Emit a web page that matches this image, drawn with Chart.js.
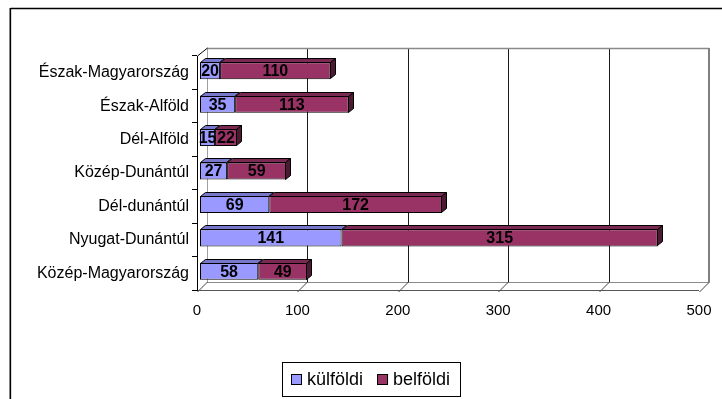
<!DOCTYPE html>
<html>
<head>
<meta charset="utf-8">
<script src="https://cdn.jsdelivr.net/npm/chart.js@4.4.0/dist/chart.umd.min.js"></script>
<style>
  html, body { margin: 0; padding: 0; background: #fff; }
  canvas { display: block; }
</style>
</head>
<body>
<canvas id="c" width="722" height="399"></canvas>
<script>
// Regions and the two visitor groups, stacked per region
const regions = ['Észak-Magyarország', 'Észak-Alföld', 'Dél-Alföld', 'Közép-Dunántúl',
                 'Dél-dunántúl', 'Nyugat-Dunántúl', 'Közép-Magyarország'];
const kulfoldi = [20, 35, 15, 27, 69, 141, 58];
const belfoldi = [110, 113, 22, 59, 172, 315, 49];
const seriesNames = ['külföldi', 'belföldi'];
const valueTicks = [0, 100, 200, 300, 400, 500];

const FONT = '"Liberation Sans", Arial, Helvetica, sans-serif';
const WALL = { dx: 10, dy: -8 };      // depth of the walls / floor
const BAR_D = { dx: 5, dy: -4 };      // depth of each bar
const BAR_SHIFT = { dx: 3, dy: -2 };  // bars sit slightly inside the box
const faces = [
  { front: '#9999FF', top: '#7777CC', side: '#5C5C99' },
  { front: '#993366', top: '#7A2952', side: '#4D1A33' }
];

function line(ctx, x1, y1, x2, y2, color, w) {
  ctx.beginPath();
  ctx.moveTo(x1, y1);
  ctx.lineTo(x2, y2);
  ctx.strokeStyle = color;
  ctx.lineWidth = w || 1;
  ctx.stroke();
}

const scene3d = {
  id: 'scene3d',
  beforeDraw(chart) {
    const ctx = chart.ctx;
    const { left, right, top, bottom } = chart.chartArea;
    const xs = chart.scales.x;
    ctx.save();
    ctx.fillStyle = '#fff';
    ctx.fillRect(0, 0, chart.width, chart.height);

    // outer frame
    line(ctx, 9.5, 8, 9.5, chart.height, '#9a9a9a', 1);
    line(ctx, 10.5, 8.5, chart.width, 8.5, '#000', 1.3);
    line(ctx, 10.5, 8, 10.5, chart.height, '#000', 1.3);

    const bl = left + WALL.dx, br = right + WALL.dx;
    const bt = top + WALL.dy, bb = bottom + WALL.dy;

    // back wall gridlines
    valueTicks.forEach((v, i) => {
      const px = Math.round(xs.getPixelForValue(v) + WALL.dx) + 0.5;
      if (i > 0 && i < valueTicks.length - 1) line(ctx, px, bt, px, bb, '#1a1a1a', 1);
    });
    // back wall border
    line(ctx, bl + 0.5, bb, bl + 0.5, bt, '#a0a0a0', 1);
    line(ctx, bl, bt + 0.5, br, bt + 0.5, '#8a8a8a', 1.5);
    line(ctx, br, bt, br, bb, '#808080', 2);

    // left wall top edge
    line(ctx, left + 0.5, top, bl + 0.5, bt, '#000', 1);

    // floor
    line(ctx, bl, bb + 0.5, br, bb + 0.5, '#8a8a8a', 1);
    valueTicks.forEach(v => {
      const px = xs.getPixelForValue(v);
      line(ctx, Math.round(px) + 0.5, bottom + 2, Math.round(px + WALL.dx) + 0.5, bb, '#444', 1);
    });
    line(ctx, left, bottom + 0.5, right, bottom + 0.5, '#555', 1);
    ctx.restore();
  },
  beforeDatasetsDraw(chart) {
    chart.ctx.save();
    chart.ctx.translate(BAR_SHIFT.dx, BAR_SHIFT.dy);
  },
  afterDatasetsDraw(chart) {
    const ctx = chart.ctx;
    const n = chart.data.labels.length;
    const last = chart.data.datasets.length - 1;
    for (let i = 0; i < n; i++) {
      chart.data.datasets.forEach((ds, d) => {
        const el = chart.getDatasetMeta(d).data[i];
        const p = el.getProps(['x', 'y', 'base', 'height'], true);
        const x0 = Math.round(p.base), x1 = Math.round(p.x);
        const yt = Math.round(p.y - p.height / 2), yb = Math.round(p.y + p.height / 2);
        ctx.lineWidth = 1;
        ctx.strokeStyle = '#000';
        // top face
        ctx.beginPath();
        ctx.moveTo(x0 + 0.5, yt + 0.5);
        ctx.lineTo(x0 + BAR_D.dx + 0.5, yt + BAR_D.dy + 0.5);
        ctx.lineTo(x1 + BAR_D.dx - 0.5, yt + BAR_D.dy + 0.5);
        ctx.lineTo(x1 - 0.5, yt + 0.5);
        ctx.closePath();
        ctx.fillStyle = faces[d].top;
        ctx.fill();
        ctx.stroke();
        // right side face on the outer segment
        if (d === last) {
          ctx.beginPath();
          ctx.moveTo(x1 - 0.5, yt + 0.5);
          ctx.lineTo(x1 + BAR_D.dx - 0.5, yt + BAR_D.dy + 0.5);
          ctx.lineTo(x1 + BAR_D.dx - 0.5, yb + BAR_D.dy - 0.5);
          ctx.lineTo(x1 - 0.5, yb - 0.5);
          ctx.closePath();
          ctx.fillStyle = faces[d].side;
          ctx.fill();
          ctx.stroke();
        }
      });
    }
    // value labels
    ctx.fillStyle = '#000';
    ctx.font = 'bold 16px ' + FONT;
    ctx.textAlign = 'center';
    ctx.textBaseline = 'middle';
    chart.data.datasets.forEach((ds, d) => {
      chart.getDatasetMeta(d).data.forEach((el, i) => {
        const p = el.getProps(['x', 'y', 'base'], true);
        ctx.fillText(String(ds.data[i]), (p.x + p.base) / 2, p.y + 1);
      });
    });
    ctx.restore();
  },
  afterDraw(chart) {
    // legend
    const ctx = chart.ctx;
    ctx.save();
    const boxL = 282, boxT = 362, boxW = 178, boxH = 34;
    ctx.fillStyle = '#fff';
    ctx.fillRect(boxL, boxT, boxW, boxH);
    ctx.strokeStyle = '#000';
    ctx.lineWidth = 1;
    ctx.strokeRect(boxL + 0.5, boxT + 0.5, boxW, boxH);
    ctx.font = '18px ' + FONT;
    ctx.textBaseline = 'middle';
    ctx.textAlign = 'left';
    let x = 291;
    const cy = boxT + boxH / 2 + 0.5;
    chart.data.datasets.forEach((ds, d) => {
      ctx.fillStyle = ds.backgroundColor;
      ctx.fillRect(x, cy - 5.5, 11, 11);
      ctx.strokeRect(x + 0.5, cy - 5.5 + 0.5, 10, 10);
      ctx.fillStyle = '#000';
      ctx.fillText(ds.label, x + 16, cy + 1);
      x += 16 + ctx.measureText(ds.label).width + 14;
    });
    ctx.restore();
  }
};

new Chart(document.getElementById('c'), {
  type: 'bar',
  data: {
    labels: regions,
    datasets: [
      { label: seriesNames[0], data: kulfoldi, backgroundColor: faces[0].front },
      { label: seriesNames[1], data: belfoldi, backgroundColor: faces[1].front }
    ]
  },
  options: {
    indexAxis: 'y',
    responsive: false,
    animation: false,
    devicePixelRatio: 1,
    layout: { padding: { left: 0, top: 56, right: 23, bottom: 0 } },
    datasets: {
      bar: {
        borderColor: '#000',
        borderWidth: 1,
        borderSkipped: false,
        categoryPercentage: 1,
        barPercentage: 0.51
      }
    },
    plugins: {
      legend: { display: false },
      tooltip: { enabled: false }
    },
    scales: {
      x: {
        type: 'linear',
        stacked: true,
        min: 0,
        max: 500,
        afterBuildTicks(scale) { scale.ticks = valueTicks.map(v => ({ value: v })); },
        afterFit(scale) { scale.height = 109; },
        grid: { display: false },
        border: { display: false },
        ticks: { color: '#000', font: { family: FONT, size: 15 }, padding: 4, maxRotation: 0 }
      },
      y: {
        stacked: true,
        afterFit(scale) { scale.width = 197; },
        grid: { drawOnChartArea: false, drawTicks: true, tickLength: 5, color: '#000', offset: true },
        border: { display: true, color: '#000', width: 1 },
        ticks: { color: '#000', font: { family: FONT, size: 16 }, padding: 3 }
      }
    }
  },
  plugins: [scene3d]
});
</script>
</body>
</html>
